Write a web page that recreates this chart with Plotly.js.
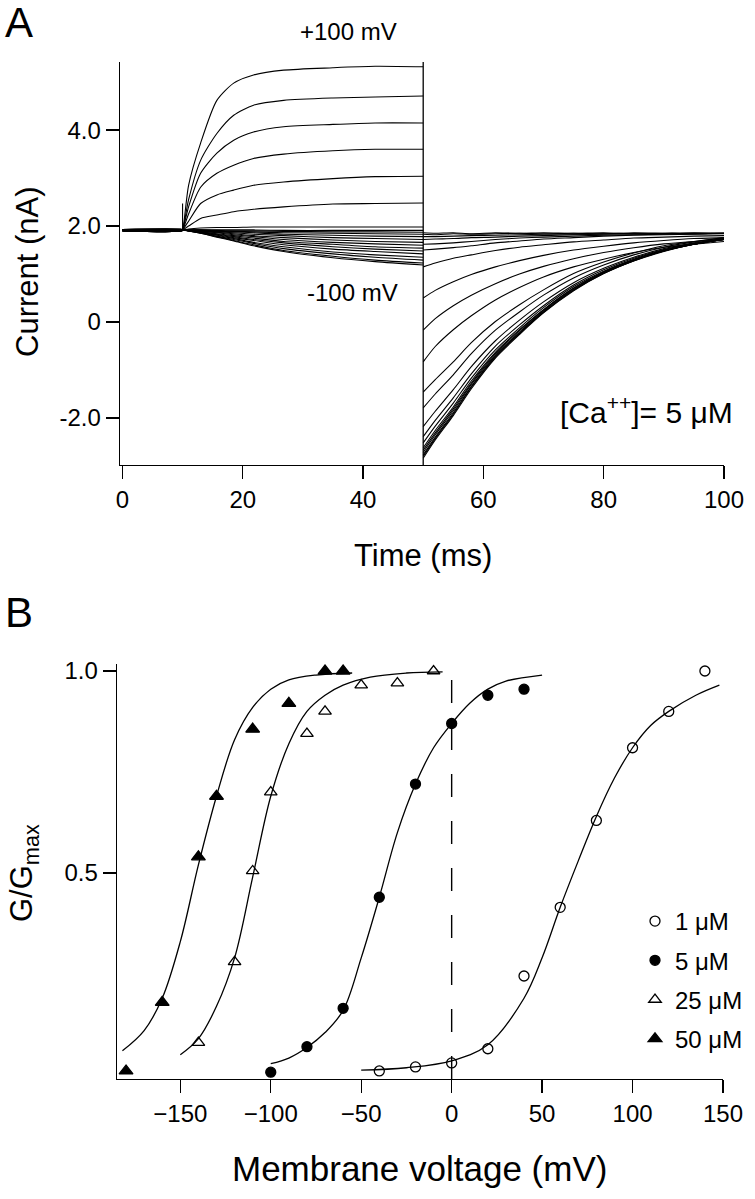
<!DOCTYPE html>
<html>
<head>
<meta charset="utf-8">
<script src="https://cdn.plot.ly/plotly-3.0.1.min.js"></script>
<style>html,body{margin:0;padding:0;background:#fff}#chart{width:755px;height:1199px}</style>
</head>
<body>
<div id="chart"></div>
<script>
// ---------- Panel A: current traces ([Ca++] = 5 uM) ----------
const stepVoltages = [-100,-90,-80,-70,-60,-50,-40,-30,-20,-10,0,10,20,30,40,50,60,70,80,90,100];
const baselineTime = [0, 9.9];
const baselineCurrent = [1.90,1.92,1.91,1.93,1.90,1.91,1.92,1.90,1.93,1.91,1.92,1.90,1.91,1.92,1.93,1.91,1.90,1.92,1.91,1.93,1.92];
const timePulse = [10, 11, 13, 15.7, 18.5, 21.8, 26.8, 35, 42, 50];
const timeTail = [50, 52, 55, 58, 62, 66, 70, 75, 80, 85, 90, 95, 100];
const pulseCurrent = [
  [1.92,1.90,1.85,1.77,1.69,1.59,1.47,1.34,1.26,1.19],
  [1.92,1.90,1.85,1.78,1.70,1.61,1.49,1.37,1.29,1.23],
  [1.92,1.90,1.86,1.79,1.72,1.64,1.53,1.42,1.35,1.29],
  [1.92,1.90,1.86,1.81,1.74,1.66,1.57,1.46,1.40,1.35],
  [1.92,1.90,1.87,1.82,1.76,1.70,1.61,1.52,1.47,1.42],
  [1.92,1.91,1.88,1.83,1.78,1.72,1.65,1.57,1.52,1.48],
  [1.92,1.91,1.88,1.84,1.80,1.75,1.68,1.62,1.57,1.54],
  [1.92,1.91,1.89,1.86,1.82,1.78,1.72,1.66,1.63,1.60],
  [1.92,1.91,1.89,1.87,1.84,1.80,1.76,1.71,1.68,1.66],
  [1.92,1.91,1.90,1.88,1.86,1.83,1.80,1.76,1.74,1.72],
  [1.92,1.92,1.91,1.89,1.88,1.86,1.83,1.81,1.79,1.78],
  [1.92,1.92,1.91,1.90,1.89,1.88,1.86,1.85,1.84,1.83],
  [1.92,1.92,1.92,1.91,1.90,1.90,1.89,1.88,1.88,1.87],
  [1.92,1.92,1.92,1.92,1.92,1.92,1.91,1.91,1.91,1.91],
  [1.92,1.94,1.96,1.97,1.97,1.98,1.98,1.98,1.98,1.98],
  [1.92,2.00,2.16,2.23,2.30,2.35,2.40,2.46,2.47,2.48],
  [1.92,2.10,2.47,2.65,2.75,2.85,2.92,2.99,3.03,3.04],
  [1.92,2.25,2.81,3.10,3.27,3.41,3.50,3.57,3.60,3.60],
  [1.92,2.40,3.10,3.52,3.79,3.96,4.07,4.12,4.15,4.15],
  [1.92,2.55,3.37,3.93,4.31,4.52,4.62,4.67,4.69,4.71],
  [1.92,2.85,3.73,4.62,4.98,5.15,5.25,5.30,5.33,5.32]
];
const tailCurrent = [
  [1.86,1.85,1.86,1.84,1.86,1.85,1.86,1.85,1.86,1.84,1.85,1.86,1.85],
  [1.83,1.82,1.84,1.83,1.84,1.85,1.84,1.85,1.84,1.86,1.85,1.84,1.85],
  [1.78,1.78,1.79,1.80,1.81,1.82,1.83,1.83,1.84,1.84,1.84,1.85,1.85],
  [1.72,1.73,1.74,1.76,1.77,1.79,1.80,1.82,1.83,1.84,1.84,1.84,1.85],
  [1.62,1.63,1.65,1.68,1.72,1.75,1.77,1.79,1.81,1.82,1.83,1.84,1.85],
  [1.50,1.52,1.55,1.59,1.65,1.69,1.73,1.76,1.79,1.81,1.82,1.83,1.84],
  [1.15,1.23,1.33,1.40,1.49,1.56,1.61,1.67,1.71,1.75,1.77,1.79,1.80],
  [0.50,0.66,0.84,0.99,1.15,1.28,1.39,1.50,1.58,1.65,1.70,1.74,1.76],
  [-0.17,0.07,0.34,0.56,0.80,1.00,1.16,1.32,1.45,1.55,1.63,1.68,1.72],
  [-0.83,-0.51,-0.16,0.13,0.46,0.72,0.94,1.15,1.31,1.45,1.56,1.62,1.68],
  [-1.46,-1.20,-0.83,-0.43,0.01,0.36,0.67,1.01,1.25,1.44,1.59,1.68,1.76],
  [-1.79,-1.50,-1.10,-0.66,-0.17,0.21,0.56,0.92,1.19,1.40,1.56,1.67,1.75],
  [-2.18,-1.86,-1.41,-0.93,-0.39,0.04,0.42,0.82,1.12,1.35,1.53,1.65,1.74],
  [-2.39,-2.05,-1.58,-1.08,-0.50,-0.06,0.34,0.77,1.09,1.33,1.51,1.64,1.73],
  [-2.52,-2.17,-1.69,-1.17,-0.58,-0.12,0.30,0.74,1.06,1.31,1.50,1.63,1.73],
  [-2.62,-2.26,-1.77,-1.23,-0.63,-0.16,0.26,0.71,1.05,1.30,1.49,1.63,1.72],
  [-2.67,-2.31,-1.81,-1.27,-0.66,-0.18,0.25,0.70,1.04,1.29,1.49,1.62,1.72],
  [-2.72,-2.35,-1.85,-1.30,-0.69,-0.21,0.23,0.68,1.03,1.29,1.48,1.62,1.72],
  [-2.77,-2.40,-1.89,-1.34,-0.71,-0.23,0.21,0.67,1.02,1.28,1.48,1.62,1.72],
  [-2.80,-2.43,-1.92,-1.36,-0.73,-0.24,0.20,0.66,1.01,1.28,1.48,1.62,1.72],
  [-2.84,-2.46,-1.95,-1.39,-0.75,-0.26,0.19,0.65,1.01,1.27,1.47,1.62,1.72]
];
const stepArtifactTime = [50, 50];
const stepArtifactCurrent = [5.42, -2.98];
const onsetArtifactTime = [10, 10];
const onsetArtifactCurrent = [1.92, 2.47];
const currentTickVals = [-2, 0, 2, 4];
const currentTickText = ['-2.0', '0', '2.0', '4.0'];
const timeTickVals = [0, 20, 40, 60, 80, 100];

// ---------- Panel B: G/Gmax vs membrane voltage ----------
const concLabels = ['1 \u03bcM', '5 \u03bcM', '25 \u03bcM', '50 \u03bcM'];
const v1 = [-40,-20,0,20,40,60,80,100,120,140];
const g1 = [0.01,0.02,0.03,0.065,0.245,0.415,0.63,0.81,0.90,1.0];
const v5 = [-100,-80,-60,-40,-20,0,20,40];
const g5 = [0.007,0.07,0.165,0.44,0.72,0.87,0.94,0.955];
const v25 = [-140,-120,-110,-100,-80,-70,-50,-30,-10];
const g25 = [0.08,0.28,0.505,0.70,0.845,0.90,0.965,0.97,1.0];
const v50 = [-180,-160,-140,-130,-110,-90,-70,-60];
const g50 = [0.01,0.18,0.54,0.69,0.856,0.92,1.0,1.0];
const fitV1 = [-50,-25,0,20,40,50,60,70,80,90,100,110,120,135,148];
const fitG1 = [0.012,0.018,0.035,0.075,0.19,0.29,0.415,0.53,0.64,0.735,0.81,0.865,0.90,0.94,0.965];
const fitV5 = [-100,-90,-80,-70,-60,-50,-40,-30,-20,-10,0,10,20,30,50];
const fitG5 = [0.028,0.042,0.068,0.105,0.16,0.29,0.44,0.60,0.72,0.81,0.87,0.92,0.955,0.975,0.99];
const fitV25 = [-150,-140,-130,-120,-110,-100,-90,-80,-70,-60,-45,-25,-5];
const fitG25 = [0.05,0.09,0.17,0.29,0.49,0.69,0.82,0.90,0.94,0.965,0.985,0.995,0.998];
const fitV50 = [-182,-170,-160,-150,-140,-130,-120,-110,-100,-90,-75,-55];
const fitG50 = [0.06,0.11,0.19,0.33,0.52,0.69,0.83,0.91,0.955,0.978,0.99,0.995];
const reversalLineV = [0, 0];
const reversalLineG = [-0.01, 0.985];
const gTickVals = [0.5, 1.0];
const gTickText = ['0.5', '1.0'];
const vTickVals = [-150,-100,-50,0,50,100,150];

// ---------- build ----------
const FONT = 'Liberation Sans, Arial, Helvetica, sans-serif';
const traces = [];
stepVoltages.forEach((v, i) => {
  traces.push({
    x: baselineTime.concat(timePulse),
    y: [baselineCurrent[i], baselineCurrent[i]].concat(pulseCurrent[i]),
    xaxis: 'x', yaxis: 'y', mode: 'lines', showlegend: false, hoverinfo: 'skip',
    name: v + ' mV', line: {color: '#000', width: 1.1, shape: 'spline', smoothing: 0.7}
  });
  traces.push({
    x: timeTail, y: tailCurrent[i],
    xaxis: 'x', yaxis: 'y', mode: 'lines', showlegend: false, hoverinfo: 'skip',
    name: v + ' mV tail', line: {color: '#000', width: 1.1, shape: 'spline', smoothing: 0.7}
  });
});
traces.push({x: stepArtifactTime, y: stepArtifactCurrent, xaxis: 'x', yaxis: 'y', mode: 'lines',
  showlegend: false, line: {color: '#000', width: 1.3}});
traces.push({x: onsetArtifactTime, y: onsetArtifactCurrent, xaxis: 'x', yaxis: 'y', mode: 'lines',
  showlegend: false, line: {color: '#000', width: 1.1}});

const fits = [[fitV1, fitG1], [fitV5, fitG5], [fitV25, fitG25], [fitV50, fitG50]];
fits.forEach(f => traces.push({x: f[0], y: f[1], xaxis: 'x2', yaxis: 'y2', mode: 'lines',
  line: {color: '#000', width: 1.3, shape: 'spline', smoothing: 1}, showlegend: false, hoverinfo: 'skip'}));
traces.push({x: reversalLineV, y: reversalLineG, xaxis: 'x2', yaxis: 'y2', mode: 'lines',
  line: {color: '#000', width: 1.4, dash: '23px,24px'}, showlegend: false});

const pts = [[v1, g1, 'circle-open', 10], [v5, g5, 'circle', 10], [v25, g25, 'triangle-up-open', 11], [v50, g50, 'triangle-up', 12]];
pts.forEach((p, i) => traces.push({x: p[0], y: p[1], xaxis: 'x2', yaxis: 'y2', mode: 'markers',
  name: concLabels[i], legendgroup: 'g' + i,
  marker: {symbol: p[2], size: p[3], color: '#000', line: {color: '#000', width: 1.3}}}));

const axisCommon = {showline: true, linecolor: '#000', linewidth: 1.4, ticks: 'outside', ticklen: 13,
  tickwidth: 1.4, tickcolor: '#000', showgrid: false, zeroline: false,
  tickfont: {family: FONT, size: 24, color: '#000'}, fixedrange: true};

function ann(text, px, py, size, extra) {
  return Object.assign({text: text, x: px / 755, y: 1 - py / 1199, xref: 'paper', yref: 'paper',
    showarrow: false, xanchor: 'center', yanchor: 'middle', font: {family: FONT, size: size, color: '#000'}}, extra || {});
}

const layout = {
  width: 755, height: 1199, margin: {l: 0, r: 0, t: 0, b: 0},
  paper_bgcolor: '#fff', plot_bgcolor: 'rgba(0,0,0,0)', showlegend: true,
  xaxis: Object.assign({}, axisCommon, {domain: [120/755, 724/755], range: [-0.4, 100], tickvals: timeTickVals, anchor: 'y'}),
  yaxis: Object.assign({}, axisCommon, {domain: [1 - 465/1199, 1 - 62/1199], range: [-2.98, 5.42],
    tickvals: currentTickVals, ticktext: currentTickText, anchor: 'x'}),
  xaxis2: Object.assign({}, axisCommon, {domain: [117/755, 723/755], range: [-185, 150], tickvals: vTickVals, anchor: 'y2'}),
  yaxis2: Object.assign({}, axisCommon, {domain: [1 - 1079/1199, 1 - 664/1199], range: [-0.0099, 1.0173],
    tickvals: gTickVals, ticktext: gTickText, anchor: 'x2'}),
  legend: {x: 635/755, y: 1 - 899/1199, xanchor: 'left', yanchor: 'top', bgcolor: 'rgba(0,0,0,0)',
    font: {family: FONT, size: 24, color: '#000'}, traceorder: 'grouped', tracegroupgap: 5, itemwidth: 30},
  annotations: [
    ann('A', 19, 22, 42),
    ann('B', 19, 612, 42),
    ann('+100 mV', 348, 32, 24),
    ann('-100 mV', 352, 293, 24),
    ann('[Ca<sup>++</sup>]= 5 \u03bcM', 646, 410, 30),
    ann('Current (nA)', 27, 272, 31, {textangle: -90}),
    ann('Time (ms)', 423, 555, 31),
    ann('G/G<sub>max</sub>', 24, 873, 31, {textangle: -90}),
    ann('Membrane voltage (mV)', 420, 1168, 35)
  ]
};
Plotly.newPlot('chart', traces, layout, {staticPlot: true, displayModeBar: false});
</script>
</body>
</html>
